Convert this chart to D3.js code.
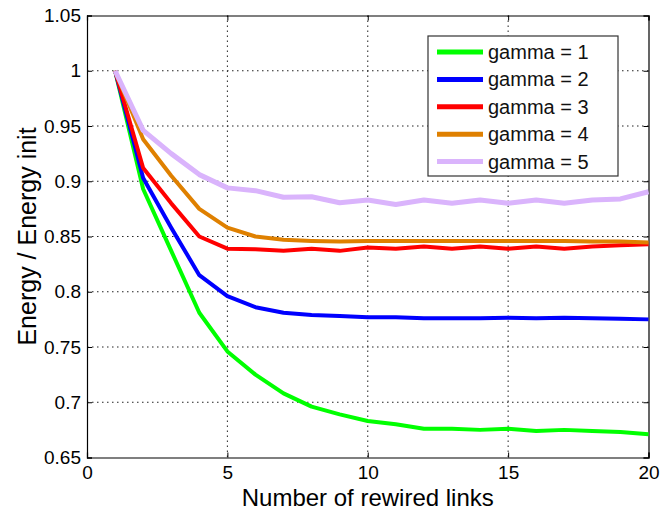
<!DOCTYPE html>
<html>
<head>
<meta charset="utf-8">
<script src="https://cdn.jsdelivr.net/npm/d3@7"></script>
<style>
  body { margin: 0; background: #fff; }
  svg { display: block; font-family: "Liberation Sans", Arial, sans-serif; }
</style>
</head>
<body>
<svg id="chart" width="660" height="511"></svg>
<script>
// Number of rewired links
const links = [1, 2, 3, 4, 5, 6, 7, 8, 9, 10, 11, 12, 13, 14, 15, 16, 17, 18, 19, 20];

// Energy / Energy init for each gamma
const gamma1 = [1.0, 0.893, 0.837, 0.781, 0.746, 0.725, 0.708, 0.696, 0.689, 0.683, 0.680, 0.676, 0.676, 0.675, 0.676, 0.674, 0.675, 0.674, 0.673, 0.671];
const gamma2 = [1.0, 0.903, 0.858, 0.815, 0.796, 0.786, 0.781, 0.779, 0.778, 0.777, 0.777, 0.776, 0.776, 0.776, 0.7765, 0.776, 0.7765, 0.776, 0.7755, 0.775];
const gamma3 = [1.0, 0.912, 0.880, 0.850, 0.839, 0.8385, 0.837, 0.839, 0.837, 0.840, 0.839, 0.841, 0.839, 0.841, 0.839, 0.841, 0.839, 0.841, 0.842, 0.843];
const gamma4 = [1.0, 0.938, 0.905, 0.875, 0.858, 0.850, 0.847, 0.846, 0.8455, 0.846, 0.846, 0.846, 0.846, 0.846, 0.846, 0.846, 0.846, 0.8455, 0.8455, 0.8445];
const gamma5 = [1.0, 0.946, 0.925, 0.906, 0.894, 0.8915, 0.8855, 0.886, 0.8805, 0.883, 0.879, 0.883, 0.880, 0.883, 0.880, 0.883, 0.880, 0.883, 0.884, 0.8905];

const seriesNames = ["gamma = 1", "gamma = 2", "gamma = 3", "gamma = 4", "gamma = 5"];
const seriesColors = ["#00ff00", "#0000ff", "#ff0000", "#df8000", "#dab4fc"];

const xTicks = [0, 5, 10, 15, 20];
const yTicks = [0.65, 0.7, 0.75, 0.8, 0.85, 0.9, 0.95, 1.0, 1.05];
const yTickLabels = ["0.65", "0.7", "0.75", "0.8", "0.85", "0.9", "0.95", "1", "1.05"];

const series = [gamma1, gamma2, gamma3, gamma4, gamma5].map((vals, i) => ({
  name: seriesNames[i],
  color: seriesColors[i],
  width: i === 4 ? 5 : 4,
  points: vals.map((v, j) => [links[j], v])
}));

const plotLeft = 87, plotRight = 648.5, plotTop = 15.5, plotBottom = 457.5;
const svg = d3.select("#chart");

const x = d3.scaleLinear().domain([0, 20]).range([plotLeft, plotRight]);
const y = d3.scaleLinear().domain([0.65, 1.05]).range([plotBottom, plotTop]);

// dotted grid
const grid = svg.append("g").attr("stroke", "#222").attr("stroke-width", 1)
  .attr("stroke-dasharray", "1.5,3.5");
xTicks.slice(1, -1).forEach(t => {
  grid.append("line").attr("x1", x(t)).attr("x2", x(t)).attr("y1", plotTop).attr("y2", plotBottom);
});
yTicks.slice(1, -1).forEach(t => {
  grid.append("line").attr("x1", plotLeft).attr("x2", plotRight).attr("y1", y(t)).attr("y2", y(t));
});

// axes with inward ticks
const tickLen = 5;
const fmtY = d => yTickLabels[yTicks.indexOf(d)];
const axB = svg.append("g").attr("transform", `translate(0,${plotBottom})`)
  .call(d3.axisBottom(x).tickValues(xTicks).tickSize(-tickLen).tickPadding(8).tickFormat(d3.format("d")));
const axL = svg.append("g").attr("transform", `translate(${plotLeft},0)`)
  .call(d3.axisLeft(y).tickValues(yTicks).tickSize(-tickLen).tickPadding(6).tickFormat(fmtY));
const axT = svg.append("g").attr("transform", `translate(0,${plotTop})`)
  .call(d3.axisTop(x).tickValues(xTicks).tickSize(-tickLen).tickFormat(""));
const axR = svg.append("g").attr("transform", `translate(${plotRight},0)`)
  .call(d3.axisRight(y).tickValues(yTicks).tickSize(-tickLen).tickFormat(""));
[axB, axL, axT, axR].forEach(a => {
  a.select(".domain").attr("stroke", "#000").attr("stroke-width", 1.2);
  a.selectAll(".tick line").attr("stroke", "#000");
  a.selectAll("text").attr("font-size", 19).attr("fill", "#000")
    .attr("font-family", "'Liberation Sans', Arial, sans-serif");
});
axB.selectAll("text").attr("dy", "0.71em");

// series lines
const line = d3.line().x(d => x(d[0])).y(d => y(d[1]));
svg.append("g").selectAll("path").data(series).join("path")
  .attr("d", d => line(d.points))
  .attr("fill", "none")
  .attr("stroke", d => d.color)
  .attr("stroke-width", d => d.width)
  .attr("stroke-linejoin", "round");

// axis labels
svg.append("text").attr("x", (plotLeft + plotRight) / 2).attr("y", 505.5)
  .attr("text-anchor", "middle").attr("font-size", 24).text("Number of rewired links");
svg.append("text").attr("transform", `translate(36,${(plotTop + plotBottom) / 2}) rotate(-90)`)
  .attr("text-anchor", "middle").attr("font-size", 25).text("Energy / Energy init");

// legend
const lg = svg.append("g");
lg.append("rect").attr("x", 428).attr("y", 36).attr("width", 190).attr("height", 140)
  .attr("fill", "#fff").attr("stroke", "#333").attr("stroke-width", 1.2);
series.forEach((s, i) => {
  const ly = 52 + i * 27.4;
  lg.append("line").attr("x1", 437).attr("x2", 483).attr("y1", ly).attr("y2", ly)
    .attr("stroke", s.color).attr("stroke-width", 5);
  lg.append("text").attr("x", 488).attr("y", ly).attr("dy", "0.35em")
    .attr("font-size", 20).attr("fill", "#111").text(s.name);
});
</script>
</body>
</html>
